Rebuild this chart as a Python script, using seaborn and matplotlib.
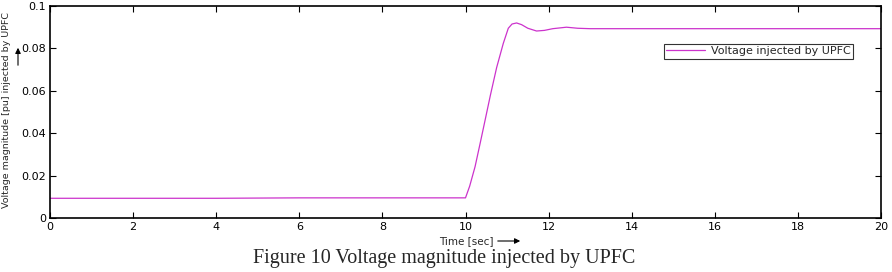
import numpy as np
import pandas as pd
import matplotlib
matplotlib.use("Agg")
import matplotlib.pyplot as plt
import seaborn as sns

time_s = [0, 2, 4, 5, 6, 8, 10.0, 10.1, 10.23, 10.35, 10.47, 10.6, 10.75, 10.91, 11.03, 11.12, 11.23, 11.35, 11.5, 11.71, 11.9, 12.1, 12.43, 12.7, 13.0, 13.5, 14, 16, 18, 20]
voltage = [0.0093, 0.0093, 0.0093, 0.0094, 0.0095, 0.0095, 0.0095, 0.0150, 0.0242, 0.0350, 0.0460, 0.0580, 0.0710, 0.0824, 0.0895, 0.0915, 0.0920, 0.0912, 0.0895, 0.0882, 0.0885, 0.0893, 0.0900, 0.0895, 0.0893, 0.0893, 0.0893, 0.0893, 0.0893, 0.0893]
xticks = [0, 2, 4, 6, 8, 10, 12, 14, 16, 18, 20]
yticks = [0, 0.02, 0.04, 0.06, 0.08, 0.1]
ytick_labels = ["0", "0.02", "0.04", "0.06", "0.08", "0.1"]

sns.set_theme(style="ticks")
plt.rcParams['font.family'] = ['DejaVu Sans']

df = pd.DataFrame({"t": time_s, "v": voltage})
fig = plt.figure(figsize=(8.92, 2.72), dpi=100)
ax = fig.add_axes([50/892, 1-218/272, 831/892, 212/272])
sns.lineplot(data=df, x="t", y="v", ax=ax, color="#CC33CC", linewidth=0.9,
             label="Voltage injected by UPFC")
ax.set_xlim(0, 20)
ax.set_ylim(0, 0.1)
ax.set_xticks(xticks)
ax.set_xticklabels([str(v) for v in xticks])
ax.set_yticks(yticks)
ax.set_yticklabels(ytick_labels)
ax.tick_params(direction="in", length=4, width=0.8, labelsize=8, top=True, right=True,
               colors="black", pad=3)
for s in ax.spines.values():
    s.set_linewidth(1.2)
    s.set_color("black")
ax.set_xlabel("")
ax.set_ylabel("")

fig.text(494/892, 1-241/272, "Time [sec]", fontsize=7.5, ha="right", va="center")
ax.annotate("", xy=(523/892, 1-241/272), xytext=(495/892, 1-241/272), xycoords="figure fraction",
            arrowprops=dict(arrowstyle="-|>", color="black", lw=0.8, mutation_scale=8))
fig.text(7/892, 1-110/272, "Voltage magnitude [pu] injected by UPFC", fontsize=6.8,
         rotation=90, ha="center", va="center")
ax.annotate("", xy=(18/892, 1-45/272), xytext=(18/892, 1-68/272), xycoords="figure fraction",
            arrowprops=dict(arrowstyle="-|>", color="black", lw=0.8, mutation_scale=8))

leg = ax.legend(loc="upper right", bbox_to_anchor=(809/831, 1-32/212), fontsize=8,
                frameon=True, fancybox=False, edgecolor="black", handlelength=3.5,
                borderpad=0.25, handletextpad=0.5)
leg.get_frame().set_linewidth(0.8)

fig.text(444/892, 1-259/272, "Figure 10 Voltage magnitude injected by UPFC",
         fontsize=14.5, family="Liberation Serif", ha="center", va="center")

fig.savefig("out.png", dpi=100)
